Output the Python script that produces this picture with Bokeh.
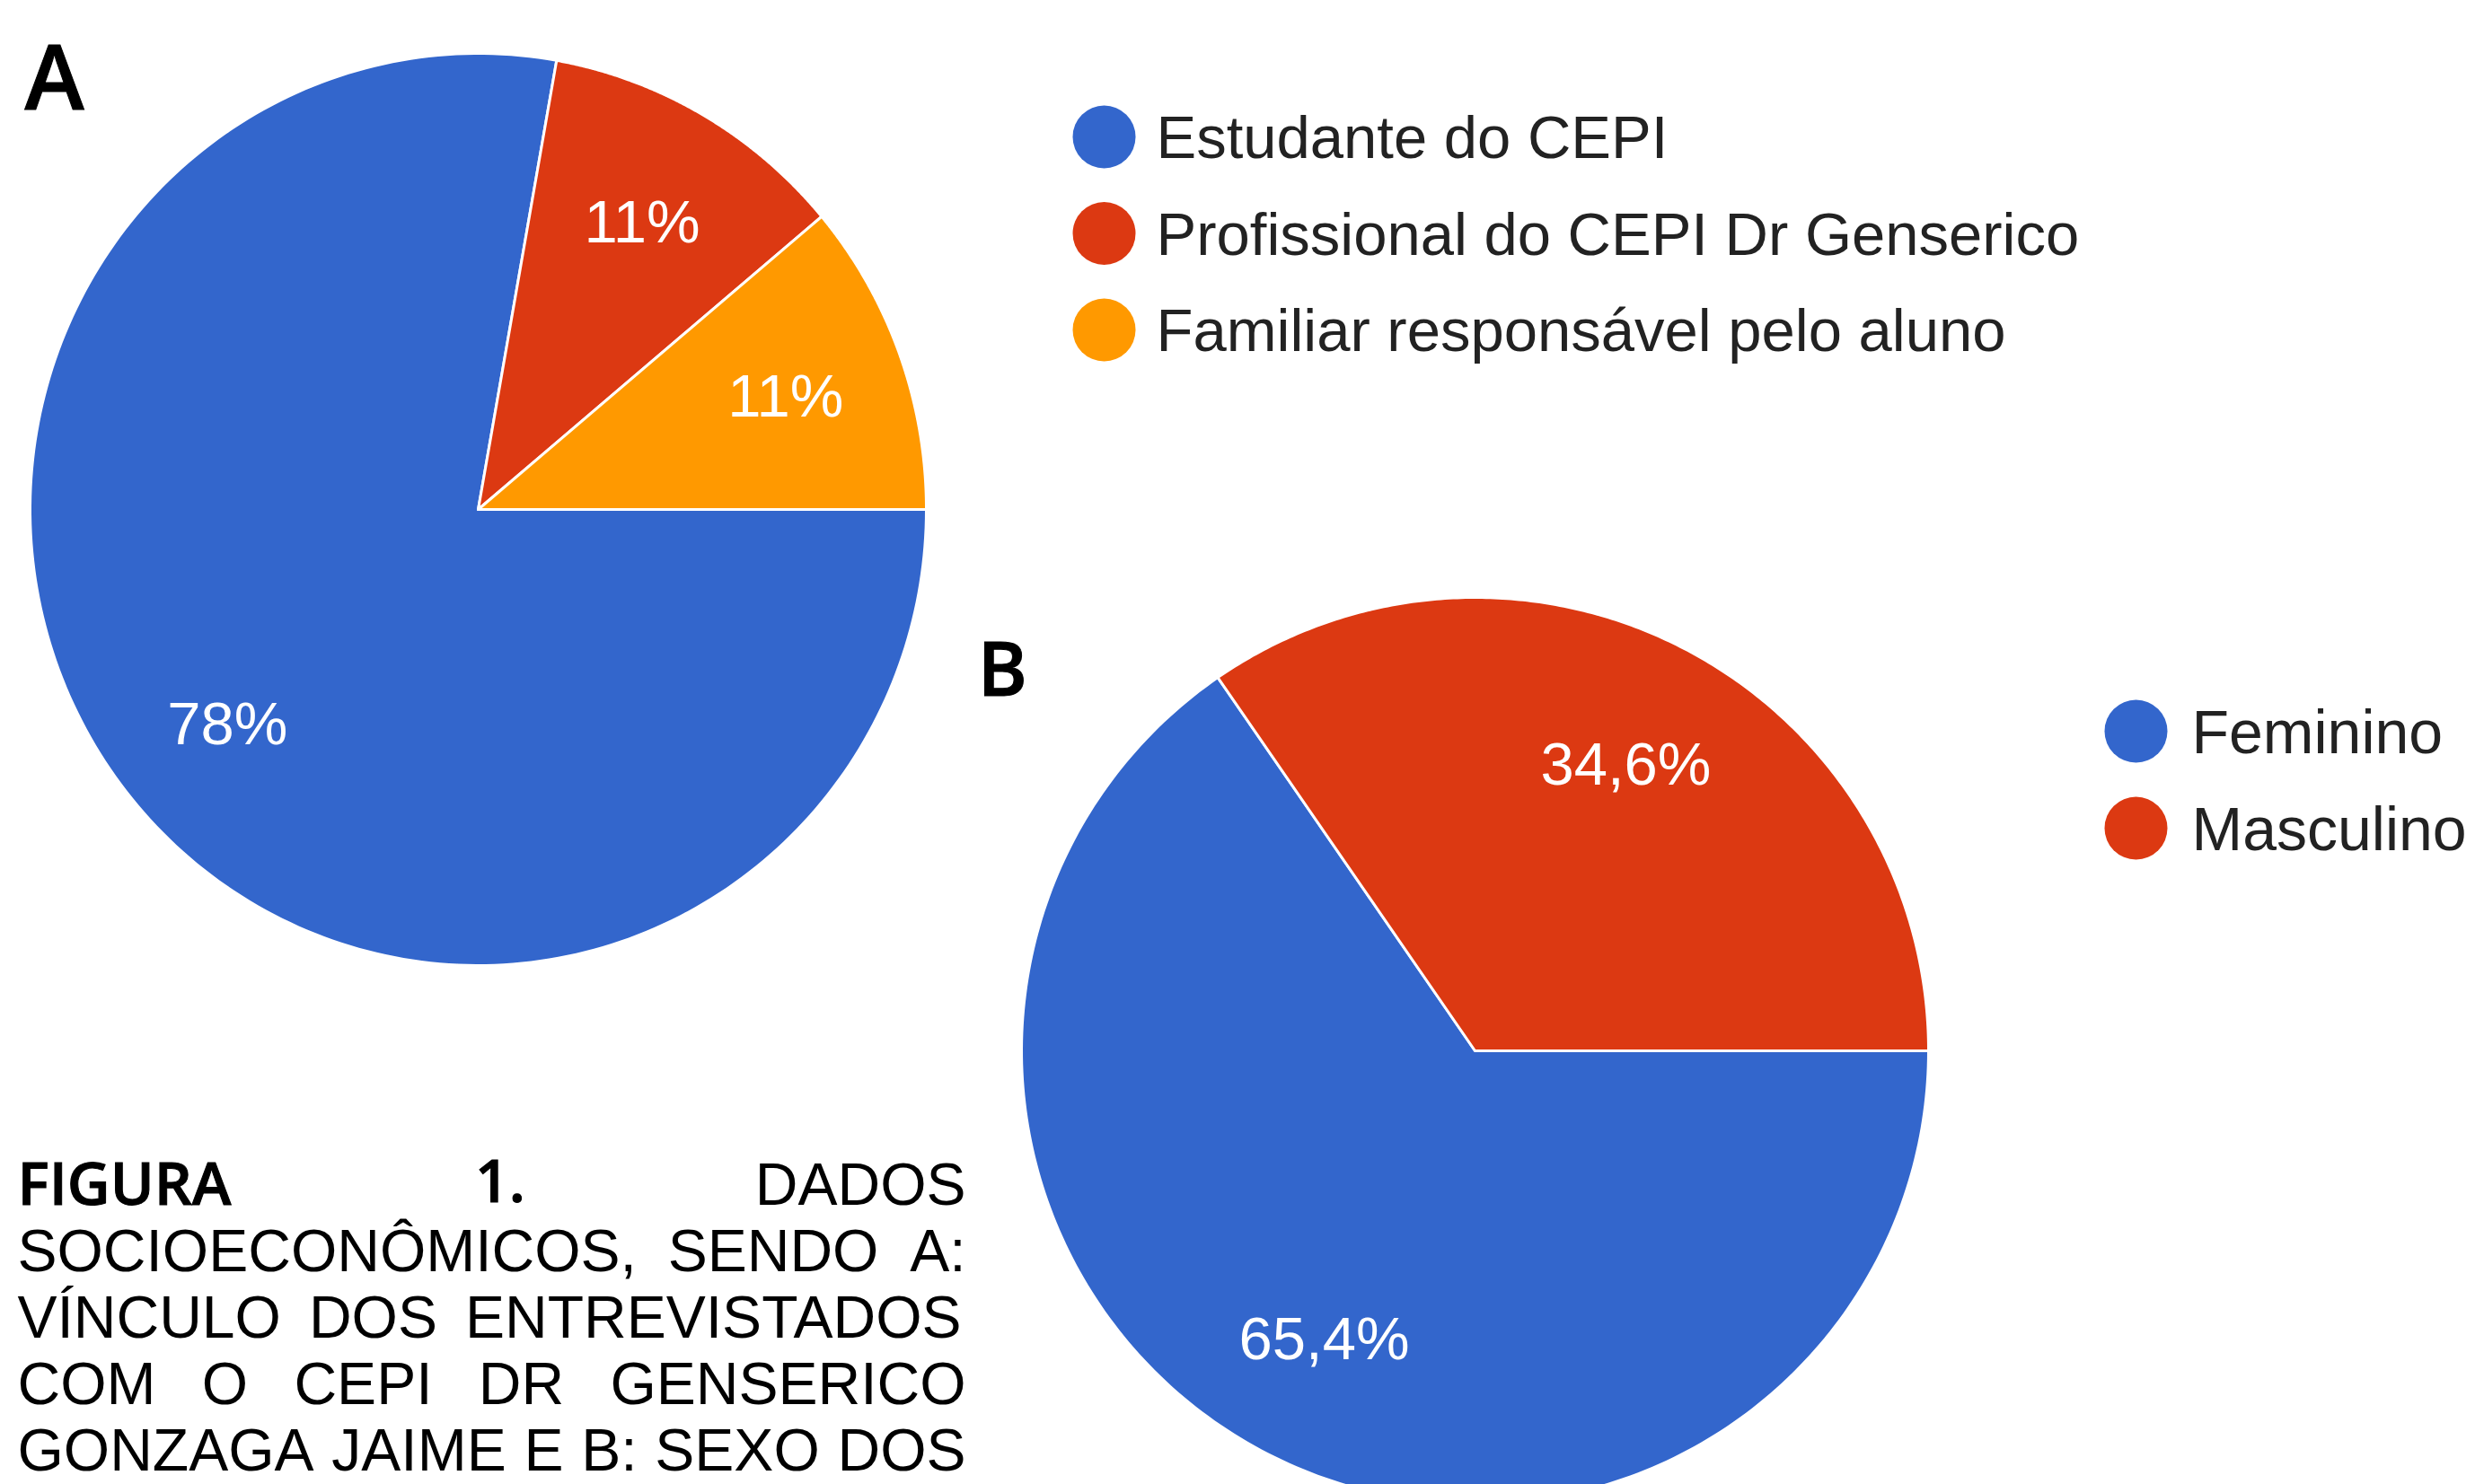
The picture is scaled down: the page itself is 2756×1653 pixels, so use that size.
import numpy as np
from bokeh.plotting import figure
from bokeh.models import Range1d, ColumnDataSource, Text
from bokeh.core.properties import value
from bokeh.embed import file_html
from bokeh.resources import INLINE

# ---------------- data ----------------
vinculo_cats = ["Estudante do CEPI", "Profissional do CEPI Dr Genserico",
                "Familiar responsável pelo aluno"]
vinculo_pct = [77.8, 11.1, 11.1]

sexo_cats = ["Feminino", "Masculino"]
sexo_pct = [65.4, 34.6]

panel_letters = ["A", "B"]

caption_lines = [
    "FIGURA 1. DADOS",
    "SOCIOECONÔMICOS, SENDO A:",
    "VÍNCULO DOS ENTREVISTADOS",
    "COM O CEPI DR GENSERICO",
    "GONZAGA JAIME E B: SEXO DOS",
]
caption_bold_words = ["FIGURA", "1."]

# ---------------- style ----------------
BLUE, RED, ORANGE = "#3366CC", "#DC3912", "#FF9900"
vinculo_colors = [BLUE, RED, ORANGE]
sexo_colors = [BLUE, RED]
FONT = value("Liberation Sans")
# heavier families (first one installed wins); bold font style is not usable here
BOLD_FONT = value("Noto Sans SemiBold, Open Sans SemiBold, Open Sans Semibold, "
                  "Lato Heavy, Roboto Medium, Liberation Sans")
BOLD_DY = 0.05  # small vertical correction (em) for the heavier family's metrics
LEGEND_TEXT = "#222222"

HAS_OUTLINE = "text_outline_color" in Text.properties()
BOLD_KW = dict(text_outline_color="black") if HAS_OUTLINE else {}

W, H = 2756, 1653
p = figure(width=W, height=H, x_range=Range1d(0, W), y_range=Range1d(H, 0),
           output_backend="svg", toolbar_location=None, min_border=0,
           x_axis_location=None, y_axis_location=None)
p.grid.visible = False
p.outline_line_color = None
p.background_fill_color = "white"
p.border_fill_color = "white"


def fmt_int(v):
    return f"{round(v)}%"


def fmt_dec(v):
    return f"{v:.1f}".replace(".", ",") + "%"


def draw_pie(values, colors, labels, cx, cy, rx, ry, label_frac, fs):
    vals = np.asarray(values, dtype=float)
    frac = vals / vals.sum()
    ends = np.cumsum(frac) * 2 * np.pi
    starts = ends - frac * 2 * np.pi
    xs, ys, lx, ly = [], [], [], []
    for s, e in zip(starts, ends):
        t = -np.linspace(s, e, 240)  # clockwise from 3 o'clock
        xs.append([cx] + list(cx + rx * np.cos(t)))
        ys.append([cy] + list(cy - ry * np.sin(t)))
        m = -(s + e) / 2
        lx.append(float(cx + label_frac * rx * np.cos(m)))
        ly.append(float(cy - label_frac * ry * np.sin(m)))
    p.patches(xs=xs, ys=ys, fill_color=colors, line_color="white",
              line_width=3, line_join="round")
    p.text(x=lx, y=ly, text=labels, text_font=FONT, text_font_size=f"{fs}px",
           text_color="white", text_align="center", text_baseline="alphabetic")


def draw_legend(cats, colors, x_dot, x_text, y0, step, r, fs):
    ys = [float(y0 + i * step) for i in range(len(cats))]
    p.scatter(x=[float(x_dot)] * len(cats), y=ys, size=2 * r, marker="circle",
              fill_color=colors, line_color=None)
    p.text(x=[float(x_text)] * len(cats), y=ys, text=cats,
           text_font=FONT, text_font_size=f"{fs}px", text_color=LEGEND_TEXT,
           text_align="left", text_baseline="alphabetic")


# Pie A
draw_pie(vinculo_pct, vinculo_colors, [fmt_int(v) for v in vinculo_pct],
         532, 567, 499, 508, 0.73, 67)
draw_legend(vinculo_cats, vinculo_colors, 1229, 1287, 152, 107.5, 35, 67)

# Pie B
draw_pie(sexo_pct, sexo_colors, [fmt_dec(v) for v in sexo_pct],
         1642, 1170, 505, 505, 0.715, 67)
draw_legend(sexo_cats, sexo_colors, 2378, 2440, 814, 108, 35, 68)

# Caption (justified, word by word, Arial metrics)
REG = {"A": 667, "B": 667, "C": 722, "D": 722, "E": 667, "F": 611, "G": 778, "H": 722,
       "I": 278, "J": 500, "K": 667, "L": 556, "M": 833, "N": 722, "O": 778, "P": 667,
       "Q": 778, "R": 722, "S": 667, "T": 611, "U": 722, "V": 667, "W": 944, "X": 667,
       "Y": 667, "Z": 611, "Í": 278, "Ô": 778, ",": 278, ":": 278, ".": 278, "1": 556}
BOLD = {"A": 722, "B": 722, "C": 722, "D": 722, "E": 667, "F": 611, "G": 778, "I": 278,
        "R": 722, "U": 722, "1": 556, ".": 278}
CAP_FS = 66
X0, X1 = 19, 1075
BASE0, LSTEP = 1342, 74
CAP_MID = 0.358 * CAP_FS

reg_src = dict(x=[], y=[], text=[])
bold_src = dict(x=[], y=[], text=[])
for i, line in enumerate(caption_lines):
    words = line.split(" ")
    bolds = [w in caption_bold_words and i == 0 for w in words]
    widths = [sum((BOLD if b else REG)[c] for c in w) * CAP_FS / 1000
              for w, b in zip(words, bolds)]
    gap = (X1 - X0 - sum(widths)) / (len(words) - 1)
    x = X0
    for w, b, wd in zip(words, bolds, widths):
        src = bold_src if b else reg_src
        src["x"].append(float(x))
        src["y"].append(float(BASE0 + i * LSTEP - CAP_MID - (BOLD_DY * CAP_FS if b else 0)))
        src["text"].append(w)
        x += wd + gap

p.text(x="x", y="y", text="text", source=ColumnDataSource(reg_src), text_font=FONT,
       text_font_size=f"{CAP_FS}px", text_color="black", text_align="left",
       text_baseline="alphabetic")

# Bold texts
p.text(x="x", y="y", text="text", source=ColumnDataSource(bold_src), text_font=BOLD_FONT,
       text_font_size=f"{CAP_FS}px", text_color="black",
       text_align="left", text_baseline="alphabetic", **BOLD_KW)
p.text(x=[27.0], y=[123.0 - (0.358 + BOLD_DY) * 100], text=[panel_letters[0]],
       text_font=BOLD_FONT, text_font_size="100px", text_color="black",
       text_align="left", text_baseline="alphabetic", **BOLD_KW)
p.text(x=[1088.0], y=[776.0 - (0.358 + BOLD_DY) * 84], text=[panel_letters[1]],
       text_font=BOLD_FONT, text_font_size="84px", text_color="black",
       text_align="left", text_baseline="alphabetic", **BOLD_KW)

open("out.html", "w").write(file_html(p, INLINE))
